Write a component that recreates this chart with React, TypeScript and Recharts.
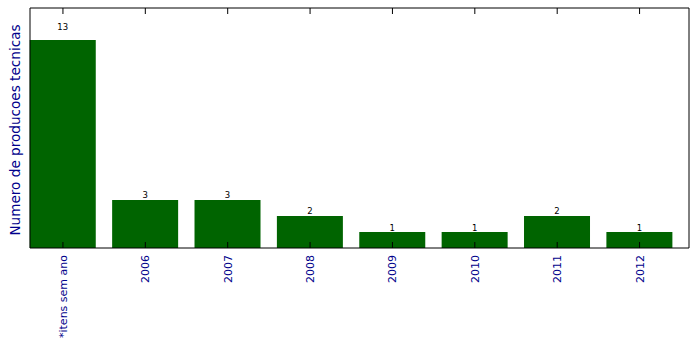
import { BarChart, Bar, XAxis, YAxis, LabelList } from "recharts";

const categories = ["*itens sem ano", "2006", "2007", "2008", "2009", "2010", "2011", "2012"];
const counts = [13, 3, 3, 2, 1, 1, 2, 1];
const positions = [0, 1, 2, 3, 4, 5, 6, 7];

const data = positions.map((pos, i) => ({ pos, name: categories[i], count: counts[i] }));

const BLUE = "#00008b";

function BottomTick(props: any) {
  const { x, y, payload } = props;
  return (
    <g>
      <line x1={x} x2={x} y1={y} y2={y - 6} stroke="#000" strokeWidth={1} />
      <text
        transform={`translate(${x + 4},${y + 7}) rotate(-90)`}
        textAnchor="end"
        fill={BLUE}
        fontSize={11}
        fontFamily="DejaVu Sans"
      >
        {categories[payload.value]}
      </text>
    </g>
  );
}

function TopTick(props: any) {
  const { x, y } = props;
  return <line x1={x} x2={x} y1={y} y2={y + 6} stroke="#000" strokeWidth={1} />;
}

function YLabel(props: any) {
  const { viewBox } = props;
  const cx = viewBox.x + viewBox.width - 10;
  const cy = viewBox.y + viewBox.height / 2 + 2;
  return (
    <text
      transform={`translate(${cx},${cy}) rotate(-90)`}
      textAnchor="middle"
      fill={BLUE}
      fontSize={13.6}
      fontFamily="DejaVu Sans"
    >
      Numero de producoes tecnicas
    </text>
  );
}

// label sits at 1.05 x value, like the original
function ValueLabel(props: any) {
  const { x, y, width, height, value } = props;
  return (
    <text
      x={x + width / 2}
      y={y - 0.05 * height}
      textAnchor="middle"
      fill="#000"
      fontSize={8.5}
      fontFamily="DejaVu Sans"
    >
      {value}
    </text>
  );
}

export default function App() {
  return (
    <div style={{ position: "absolute", left: 0, top: 0, background: "#fff" }}>
      <BarChart
        width={699}
        height={348}
        data={data}
        margin={{ top: 7, right: 9, bottom: 99, left: 29 }}
      >
        <XAxis
          dataKey="pos"
          type="number"
          domain={[-0.4, 7.6]}
          ticks={positions}
          height={1}
          tickSize={0}
          tickMargin={0}
          tickLine={false}
          interval={0}
          tick={<BottomTick />}
          axisLine={{ stroke: "#000", strokeWidth: 1 }}
        />
        <XAxis
          xAxisId="top"
          dataKey="pos"
          type="number"
          orientation="top"
          domain={[-0.4, 7.6]}
          ticks={positions}
          height={1}
          tickSize={0}
          tickMargin={0}
          tickLine={false}
          interval={0}
          tick={<TopTick />}
          axisLine={{ stroke: "#000", strokeWidth: 1 }}
        />
        <YAxis
          domain={[0, 15]}
          width={1}
          tick={false}
          tickLine={false}
          axisLine={{ stroke: "#000", strokeWidth: 1 }}
          label={<YLabel />}
        />
        <YAxis
          yAxisId="right"
          orientation="right"
          domain={[0, 15]}
          width={1}
          tick={false}
          tickLine={false}
          axisLine={{ stroke: "#000", strokeWidth: 1 }}
        />
        <Bar dataKey="count" fill="#006400" barSize={66} isAnimationActive={false}>
          <LabelList dataKey="count" content={<ValueLabel />} />
        </Bar>
      </BarChart>
    </div>
  );
}
